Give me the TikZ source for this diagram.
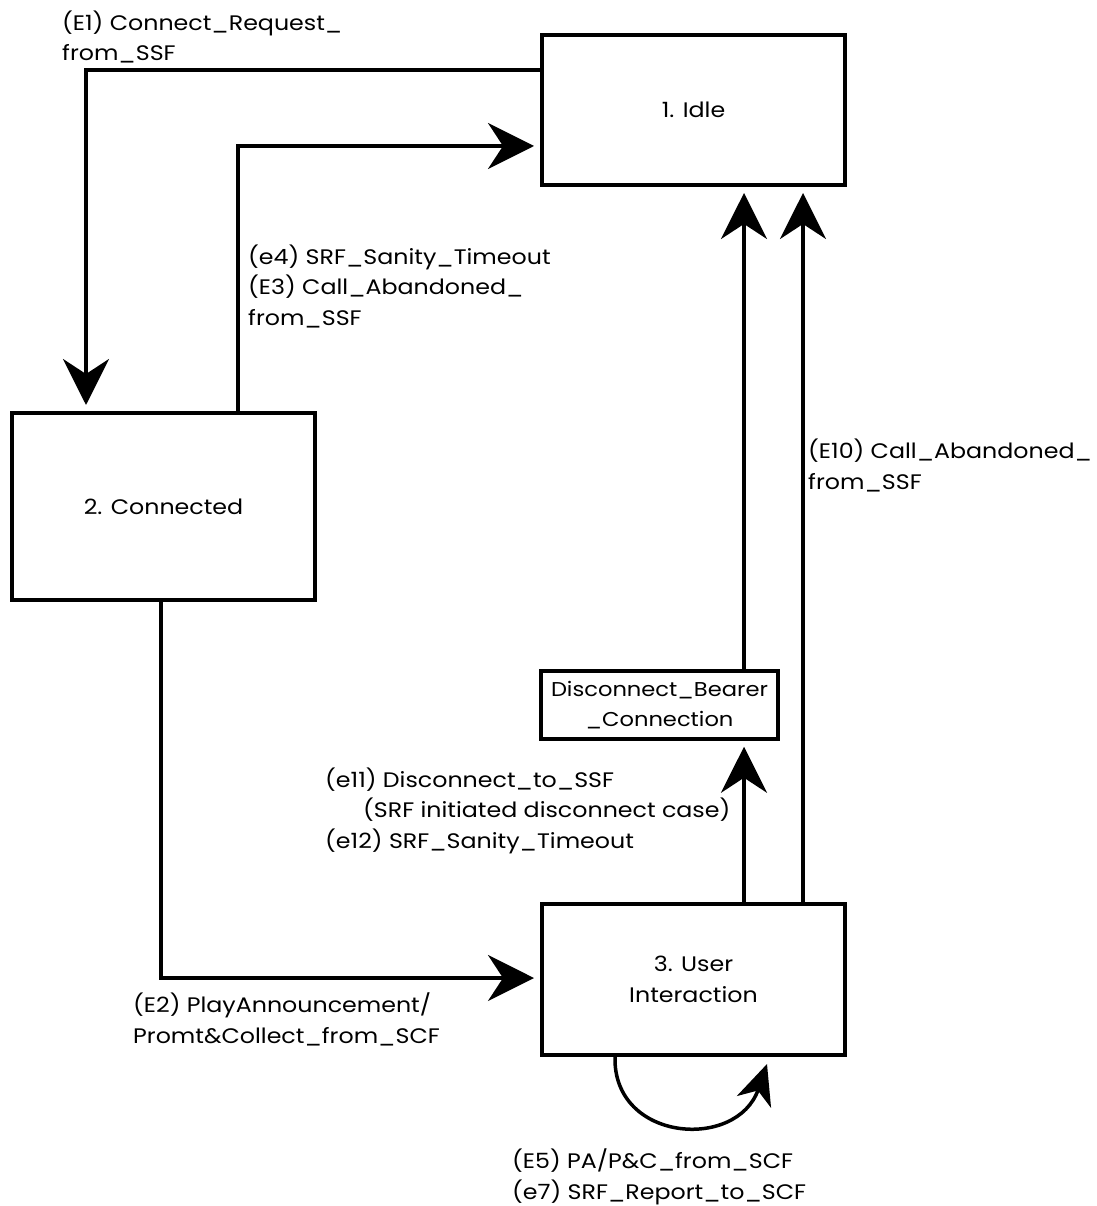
\documentclass[tikz,border=0pt]{standalone}
\usepackage{fontspec}
\setmainfont{Poppins}[FakeStretch=1.13]
\usetikzlibrary{arrows.meta,calc}
\begin{document}
\begin{tikzpicture}[x=1pt,y=-1pt,
  state/.style={draw=black,line width=4pt,fill=white,inner sep=0pt,align=center,font=\fontsize{21}{31}\selectfont},
  lbl/.style={anchor=base west,inner sep=0pt,align=left,font=\fontsize{21}{30.5}\selectfont},
  arr/.style={line width=3.5pt,-{Stealth[length=46pt,width=46pt,inset=15pt]},shorten >=6pt},
  arrs/.style={line width=3.5pt,-{Stealth[length=40pt,width=36pt,inset=12pt]}}]
\path[use as bounding box,fill=white] (0,0) rectangle (1096,1206);
\node[state,minimum width=303pt,minimum height=150pt] (idle) at (693.5,110) {1. Idle};
\node[state,minimum width=303pt,minimum height=187pt] (conn) at (163.5,506.5) {2. Connected};
\node[state,minimum width=303pt,minimum height=151pt] (ui) at (693.5,979.5) {3. User\\Interaction};
\node[state,line width=3.5pt,minimum width=237pt,minimum height=68pt,font=\fontsize{20}{30}\selectfont] (disc) at (659.5,705) {Disconnect\_Bearer\\\_Connection};
\coordinate (p1) at ($(ui.north west)+(204,0)$);
\coordinate (p2) at ($(ui.north west)+(263,0)$);
\coordinate (ls) at ($(ui.south west)+(75,0)$);
\coordinate (le) at ($(ui.south west)+(227,7)$);
% E1
\draw[arr] ($(idle.north west)+(0,37)$) -| ($(conn.north west)+(76,0)$);
% e4/E3
\draw[arr] ($(conn.north west)+(228,0)$) |- ($(idle.north west)+(0,113)$);
% E2
\draw[arr] ($(conn.south west)+(151,0)$) |- ($(ui.north west)+(0,76)$);
% UI -> disc -> idle
\draw[arr] (p1) -- (p1 |- disc.south);
\draw[arr] (p1 |- disc.north) -- (p1 |- idle.south);
\draw[arr] (p2) -- (p2 |- idle.south);
% self loop
\draw[arrs] (ls) .. controls ($(ls)+(-2,85)$) and ($(le)+(-30,87)$) .. (le);
% labels
\node[lbl] (l1) at (62,61) {(E1) Connect\_Request\_\\from\_SSF};
\node[lbl] (l2) at (248,325) {(e4) SRF\_Sanity\_Timeout\\(E3) Call\_Abandoned\_\\from\_SSF};
\node[lbl] (l3) at (808,489) {(E10) Call\_Abandoned\_\\from\_SSF};
\node[lbl] (l4) at (325,848) {(e11) Disconnect\_to\_SSF\\\hspace*{38pt}(SRF initiated disconnect case)\\(e12) SRF\_Sanity\_Timeout};
\node[lbl] (l5) at (133,1043) {(E2) PlayAnnouncement/\\Promt\&Collect\_from\_SCF};
\node[lbl] (l6) at (512,1199) {(E5) PA/P\&C\_from\_SCF\\(e7) SRF\_Report\_to\_SCF};
\end{tikzpicture}
\end{document}
